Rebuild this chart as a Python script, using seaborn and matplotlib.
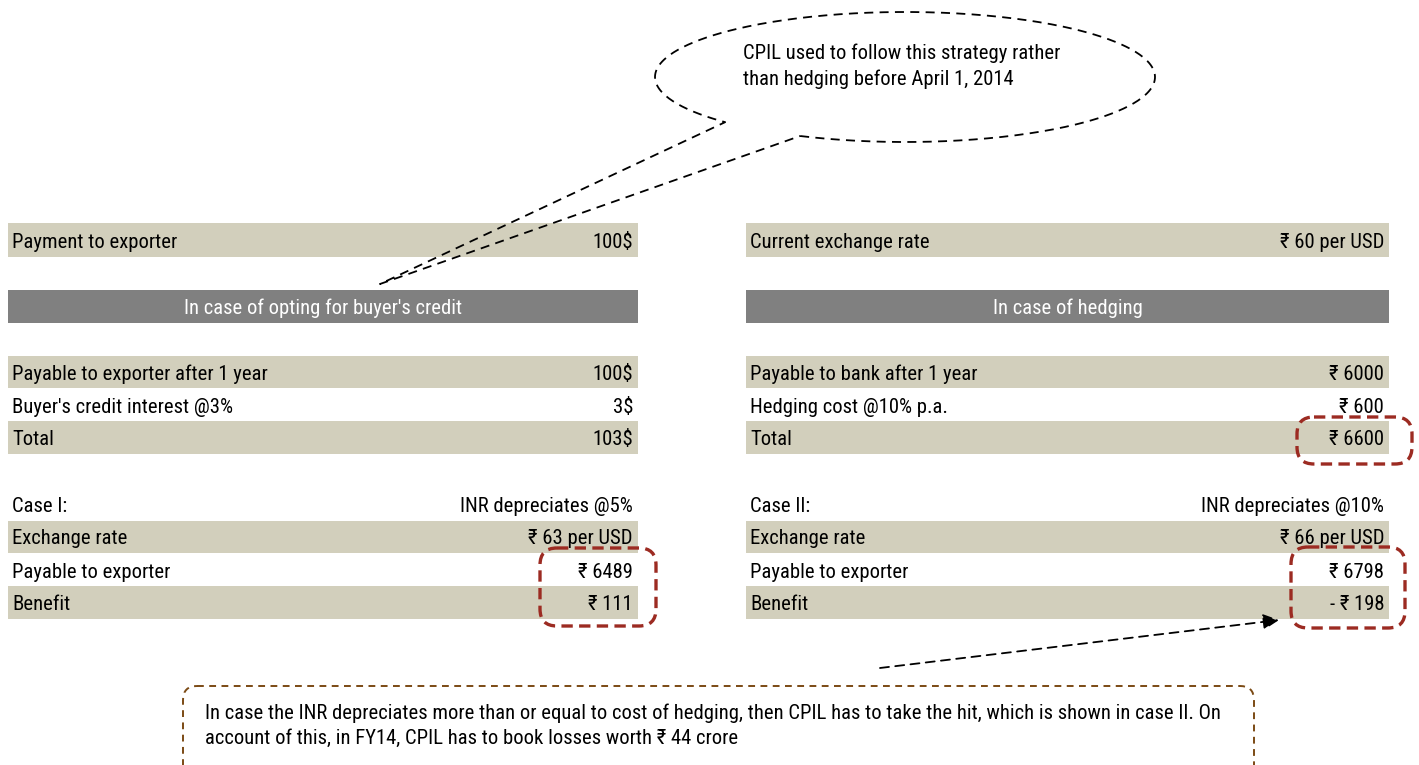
import numpy as np
import matplotlib
matplotlib.use("Agg")
import matplotlib.pyplot as plt
from matplotlib.patches import Rectangle, FancyBboxPatch
import seaborn as sns

sns.set_theme(style="white")
plt.rcParams['font.family'] = ['Roboto Condensed', 'DejaVu Sans']
plt.rcParams['text.color'] = 'black'

# ---------------- data ----------------
left_labels = ["Payment to exporter", "In case of opting for buyer's credit",
               "Payable to exporter after 1 year", "Buyer's credit interest @3%",
               "Total", "Case I:", "Exchange rate", "Payable to exporter", "Benefit"]
left_values = ["100$", "", "100$", "3$", "103$", "INR depreciates @5%",
               "₹ 63 per USD", "₹ 6489", "₹ 111"]
right_labels = ["Current exchange rate", "In case of hedging",
                "Payable to bank after 1 year", "Hedging cost @10% p.a.",
                "Total", "Case II:", "Exchange rate", "Payable to exporter", "Benefit"]
right_values = ["₹ 60 per USD", "", "₹ 6000", "₹ 600", "₹ 6600",
                "INR depreciates @10%", "₹ 66 per USD", "₹ 6798", "- ₹ 198"]
callout_text = "CPIL used to follow this strategy rather\nthan hedging before April 1, 2014"
note_text = ("In case the INR depreciates more than or equal to cost of hedging, then CPIL has to take the hit, which is shown in case II. On\n"
             "account of this, in FY14, CPIL has to book losses worth ₹ 44 crore")

# ---------------- layout ----------------
row_kind = ['shade', 'header', 'shade', 'plain', 'shade', 'plain', 'shade', 'plain', 'shade']
row_top = [223, 290, 356, 389, 421, 488, 521, 554, 586]
row_bot = [257, 323, 388, 421, 454, 520, 553, 586, 619]
tables = [(8, 638, left_labels, left_values), (746, 1389, right_labels, right_values)]

TAN = "#D2CFBC"
GRAY = "#808080"
RED = "#9C2B22"
BROWN = "#7B4A14"
FS = 14.9

W, H = 1419, 765
fig = plt.figure(figsize=(W / 100, H / 100), dpi=100)
ax = fig.add_axes([0, 0, 1, 1])
ax.set_xlim(0, W)
ax.set_ylim(H, 0)
ax.axis("off")

for x0, x1, labels, values in tables:
    for kind, t, b, lab, val in zip(row_kind, row_top, row_bot, labels, values):
        yc = (t + b) / 2 + 2
        if kind == 'header':
            ax.add_patch(Rectangle((x0, t), x1 - x0, b - t, facecolor=GRAY, edgecolor='none'))
            ax.text((x0 + x1) / 2, yc, lab, ha='center', va='center', color='white', fontsize=FS)
            continue
        if kind == 'shade':
            ax.add_patch(Rectangle((x0, t), x1 - x0, b - t, facecolor=TAN, edgecolor='none'))
        ax.text(x0 + 4, yc, lab, ha='left', va='center', color='black', fontsize=FS)
        ax.text(x1 - 5, yc, val, ha='right', va='center', color='black', fontsize=FS)

# red dashed highlight boxes
for (bx0, by0, bx1, by1) in [(540, 548, 656, 626), (1297, 417, 1412, 464), (1291, 547, 1405, 628)]:
    ax.add_patch(FancyBboxPatch((bx0, by0), bx1 - bx0, by1 - by0,
                                boxstyle="round,pad=0,rounding_size=17",
                                facecolor='none', edgecolor=RED, lw=2.4,
                                linestyle=(0, (3.4, 1.9)), zorder=5))

# speech-bubble callout (ellipse with tail)
cx, cy, a, b = 905, 77, 250, 65
t1, t2 = np.deg2rad(114.8), np.deg2rad(136 - 360)
tt = np.linspace(t1, t2, 400)
ex = cx + a * np.cos(tt)
ey = cy + b * np.sin(tt)
px = np.concatenate([ex, [380, ex[0]]])
py = np.concatenate([ey, [284, ey[0]]])
ax.plot(px, py, color='black', lw=1.3, linestyle=(0, (5, 3.5)), zorder=6)
ax.text(743, 66, callout_text, ha='left', va='center', fontsize=FS, color='black', linespacing=1.45)

# bottom note box
ax.add_patch(FancyBboxPatch((183, 686), 1254 - 183, 100,
                            boxstyle="round,pad=0,rounding_size=14",
                            facecolor='none', edgecolor=BROWN, lw=1.4,
                            linestyle=(0, (3.5, 2.8)), zorder=5))
ax.text(205, 726, note_text, ha='left', va='center', fontsize=FS, color='black', linespacing=1.38)

# arrow to case II
ax.annotate("", xy=(1279, 620), xytext=(880, 668),
            arrowprops=dict(arrowstyle='-|>', color='black', lw=1.3,
                            linestyle=(0, (5, 3.5)), mutation_scale=24,
                            shrinkA=0, shrinkB=0))

fig.savefig("out.png", dpi=100)
